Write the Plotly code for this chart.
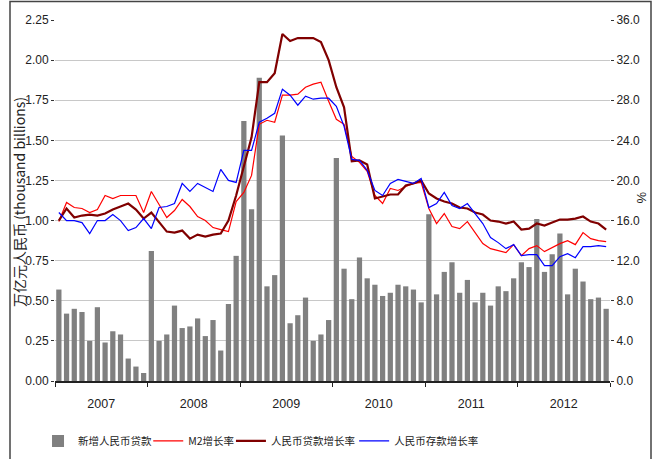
import plotly.graph_objects as go

years = ["2007", "2008", "2009", "2010", "2011", "2012"]

new_loans = [
    0.57, 0.42, 0.45, 0.43, 0.25, 0.46, 0.24, 0.31, 0.29, 0.14, 0.09, 0.05,
    0.81, 0.25, 0.29, 0.47, 0.33, 0.34, 0.39, 0.28, 0.38, 0.19, 0.48, 0.78,
    1.62, 1.07, 1.89, 0.59, 0.66, 1.53, 0.36, 0.41, 0.52, 0.25, 0.29, 0.38,
    1.39, 0.70, 0.51, 0.77, 0.64, 0.60, 0.53, 0.55, 0.60, 0.59, 0.57, 0.49,
    1.04, 0.54, 0.68, 0.74, 0.55, 0.63, 0.49, 0.55, 0.47, 0.59, 0.56, 0.64,
    0.74, 0.71, 1.01, 0.68, 0.79, 0.92, 0.54, 0.70, 0.62, 0.51, 0.52, 0.45,
]

m2_growth = [
    15.9, 17.8, 17.3, 17.2, 16.8, 17.1, 18.5, 18.2, 18.5, 18.5, 18.5, 16.8,
    18.9, 17.6, 16.3, 17.0, 18.1, 17.4, 16.4, 16.0, 15.3, 15.1, 14.9, 17.9,
    18.8, 20.5, 25.6, 26.0, 25.8, 28.5, 28.5, 28.6, 29.3, 29.6, 29.8, 27.9,
    26.1, 25.6, 22.4, 21.8, 20.9, 18.5, 17.7, 19.2, 19.0, 19.4, 19.7, 19.8,
    17.2, 15.7, 16.7, 15.4, 15.2, 15.9, 14.8, 13.7, 13.2, 13.0, 12.8, 13.6,
    12.5, 13.2, 13.5, 12.9, 13.3, 13.7, 14.0, 13.6, 14.8, 14.2, 14.0, 13.9,
]

loan_growth = [
    16.0, 17.2, 16.3, 16.5, 16.6, 16.5, 16.7, 17.1, 17.4, 17.7, 17.1, 16.2,
    16.8, 15.8, 14.9, 14.8, 15.0, 14.2, 14.6, 14.4, 14.6, 14.7, 16.0, 18.5,
    21.3, 24.3, 29.8, 29.8, 30.7, 34.6, 33.9, 34.2, 34.2, 34.2, 33.8, 32.0,
    29.3, 27.3, 21.9, 22.0, 21.6, 18.2, 18.4, 18.6, 18.6, 19.5, 19.7, 20.0,
    18.7, 18.2, 17.9, 17.7, 17.3, 17.2, 16.8, 16.6, 16.0, 15.9, 15.7, 15.9,
    15.1, 15.2, 15.7, 15.5, 15.8, 16.1, 16.1, 16.2, 16.4, 15.9, 15.7, 15.1,
]

deposit_growth = [
    16.8, 16.0, 16.0, 15.8, 14.7, 16.0, 16.0, 16.6, 16.0, 15.0, 15.3, 16.2,
    15.2, 17.3, 17.4, 17.7, 19.7, 18.9, 19.7, 19.3, 18.9, 21.1, 20.0, 19.8,
    23.0, 23.0, 25.8, 26.2, 26.7, 29.1, 28.5, 27.5, 28.4, 28.1, 28.2, 28.2,
    27.4, 25.4, 22.1, 22.0, 21.0, 19.0, 18.5, 19.7, 20.1, 19.9, 19.7, 20.2,
    17.3, 17.7, 18.8, 17.5, 17.2, 17.7, 16.7, 15.7, 14.3, 13.8, 13.2, 13.6,
    12.5, 12.6, 12.6, 11.5, 11.5, 12.4, 12.7, 12.3, 13.4, 13.4, 13.5, 13.4,
]

months = list(range(len(new_loans)))
year_centers = [12 * k + 5.5 for k in range(len(years))]
year_edges = [12 * k - 0.5 for k in range(len(years) + 1)]

NUM_FONT = "Liberation Sans Narrow, Arial Narrow, Liberation Sans, Arial, sans-serif"
CJK_FONT = "Noto Sans CJK SC, Liberation Sans Narrow, sans-serif"

fig = go.Figure()
fig.add_trace(go.Bar(x=months, y=new_loans, name="新增人民币贷款",
                     marker=dict(color="#808080", line=dict(width=0)),
                     yaxis="y", legend="legend"))
fig.add_trace(go.Scatter(x=months, y=m2_growth, name="M2增长率", mode="lines",
                         line=dict(color="#ff0000", width=1.2), yaxis="y2",
                         legend="legend2"))
fig.add_trace(go.Scatter(x=months, y=loan_growth, name="人民币贷款增长率", mode="lines",
                         line=dict(color="#800000", width=2.2), yaxis="y2",
                         legend="legend3"))
fig.add_trace(go.Scatter(x=months, y=deposit_growth, name="人民币存款增长率", mode="lines",
                         line=dict(color="#0000ff", width=1.2), yaxis="y2",
                         legend="legend4"))

leg_common = dict(orientation="h", y=-0.166, yanchor="middle", xanchor="left",
                  bgcolor="rgba(0,0,0,0)", borderwidth=0,
                  font=dict(family=CJK_FONT, size=10.5, color="#222"))

fig.update_layout(
    width=656, height=459,
    margin=dict(l=55, r=46, t=20, b=78, autoexpand=False),
    paper_bgcolor="white", plot_bgcolor="white",
    bargap=0.32,
    hovermode=False,
    font=dict(family=NUM_FONT, size=12, color="#222"),
    xaxis=dict(range=[-0.5, 71.5], tickmode="array", tickvals=year_centers,
               ticktext=years, ticks="outside", ticklen=10,
               tickcolor="rgba(0,0,0,0)", showgrid=False, zeroline=False,
               showline=True, linecolor="#222", linewidth=1.5,
               tickfont=dict(family=NUM_FONT, size=12.5),
               minor=dict(tickmode="array", tickvals=year_edges, ticks="outside",
                          ticklen=4, tickcolor="#222", tickwidth=1, showgrid=False)),
    yaxis=dict(range=[0, 2.25], tickmode="linear", tick0=0, dtick=0.25,
               tickformat=".2f", showgrid=True, gridcolor="#c8c8c8", gridwidth=1,
               zeroline=False, showline=False, ticks="outside", ticklen=3,
               tickcolor="#333", tickfont=dict(family=NUM_FONT, size=12)),
    yaxis2=dict(range=[0, 36], overlaying="y", side="right", tickmode="linear",
                tick0=0, dtick=4, tickformat=".1f", showgrid=False, zeroline=False,
                showline=False, ticks="outside", ticklen=3, tickcolor="#333",
                tickfont=dict(family=NUM_FONT, size=12)),
    legend=dict(x=-0.0306, **leg_common),
    legend2=dict(x=0.168, **leg_common),
    legend3=dict(x=0.317, **leg_common),
    legend4=dict(x=0.539, **leg_common),
    showlegend=True,
)

fig.add_annotation(text="万亿元人民币 (thousand billions)", xref="paper", yref="paper",
                   x=(19 - 55) / 555, y=(381 - 202) / 361, textangle=-90, showarrow=False,
                   xanchor="center", yanchor="middle",
                   font=dict(family=CJK_FONT, size=14, color="#222"))
fig.add_annotation(text="%", xref="paper", yref="paper",
                   x=(641 - 55) / 555, y=(381 - 197.5) / 361, textangle=-90,
                   showarrow=False, xanchor="center", yanchor="middle",
                   font=dict(family=NUM_FONT, size=13, color="#222"))

fig.add_shape(type="rect", xref="paper", yref="paper",
              x0=(10 - 55) / 555, x1=(651 - 55) / 555,
              y0=(381 - 470) / 361, y1=(381 - 1.5) / 361,
              line=dict(color="#444", width=1.5), fillcolor="rgba(0,0,0,0)", layer="below")

fig.write_html("out.html", config={"displayModeBar": False},
               post_script="document.body.style.margin='0';")
